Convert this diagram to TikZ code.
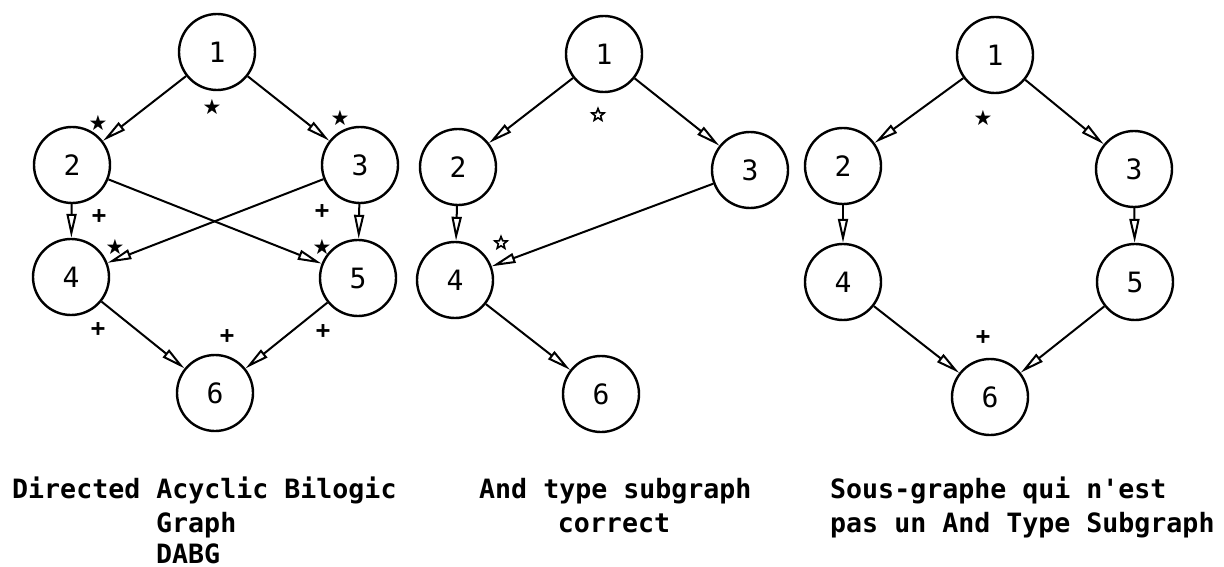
\documentclass[tikz,border=0pt]{standalone}
\usepackage{fontspec}
\setmonofont{DejaVu Sans Mono}
\newfontfamily\symf{DejaVu Sans}
\usetikzlibrary{arrows.meta,shapes.geometric}
\begin{document}
\begin{tikzpicture}[x=1pt,y=-1pt,
  vtx/.style={circle,draw,line width=2.4pt,minimum size=76pt,inner sep=0pt,
    font=\ttfamily\fontsize{28}{28}\selectfont},
  arr/.style={line width=2pt,-{Triangle[open,length=24pt,width=10pt,line width=2pt]}},
  starlbl/.style={font=\symf\fontsize{21}{21}\selectfont,inner sep=0pt},
  openstar/.style={star,star points=5,star point ratio=2.3,draw,line width=1.6pt,
    minimum size=13pt,inner sep=0pt},
  pluslbl/.style={font=\ttfamily\bfseries\fontsize{24}{24}\selectfont,inner sep=0pt},
  caplbl/.style={font=\ttfamily\bfseries\fontsize{26.6}{26.6}\selectfont,inner sep=0pt,anchor=base west}]
\useasboundingbox (0,0) rectangle (1224,567);
% Graph 1
\node[vtx] (a1) at (217,52) {1};
\node[vtx] (a2) at (72,165) {2};
\node[vtx] (a3) at (360,165) {3};
\node[vtx] (a4) at (71,277) {4};
\node[vtx] (a5) at (358,278) {5};
\node[vtx] (a6) at (215,393) {6};
\draw[arr] (a1) -- (a2);
\draw[arr] (a1) -- (a3);
\draw[arr] (a2) -- (a4);
\draw[arr] (a3) -- (a5);
\draw[arr] (a2) -- (a5);
\draw[arr] (a3) -- (a4);
\draw[arr] (a4) -- (a6);
\draw[arr] (a5) -- (a6);
\node[starlbl] (as1) at (98,123) {★};
\node[starlbl] (as2) at (212,107) {★};
\node[starlbl] (as3) at (340,118) {★};
\node[starlbl] (as4) at (115,247) {★};
\node[starlbl] (as5) at (322,247) {★};
\node[pluslbl] (ap1) at (99,217) {+};
\node[pluslbl] (ap2) at (322,212) {+};
\node[pluslbl] (ap3) at (98,330) {+};
\node[pluslbl] (ap4) at (227,337) {+};
\node[pluslbl] (ap5) at (323,332) {+};
% Graph 2
\node[vtx] (b1) at (604,54) {1};
\node[vtx] (b2) at (458,167) {2};
\node[vtx] (b3) at (750,170) {3};
\node[vtx] (b4) at (455,280) {4};
\node[vtx] (b6) at (601,394) {6};
\draw[arr] (b1) -- (b2);
\draw[arr] (b1) -- (b3);
\draw[arr] (b2) -- (b4);
\draw[arr] (b3) -- (b4);
\draw[arr] (b4) -- (b6);
\node[openstar] (bs1) at (598,115) {};
\node[openstar] (bs2) at (501,243) {};
% Graph 3
\node[vtx] (c1) at (995,55) {1};
\node[vtx] (c2) at (843,166) {2};
\node[vtx] (c3) at (1134,169) {3};
\node[vtx] (c4) at (843,282) {4};
\node[vtx] (c5) at (1135,282) {5};
\node[vtx] (c6) at (990,397) {6};
\draw[arr] (c1) -- (c2);
\draw[arr] (c1) -- (c3);
\draw[arr] (c2) -- (c4);
\draw[arr] (c3) -- (c5);
\draw[arr] (c4) -- (c6);
\draw[arr] (c5) -- (c6);
\node[starlbl] (cs1) at (983,118) {★};
\node[pluslbl] (cp1) at (983,338) {+};
% Captions
\node[caplbl] (t1a) at (12,498) {Directed Acyclic Bilogic};
\node[caplbl] (t1b) at (156,532) {Graph};
\node[caplbl] (t1c) at (156,563) {DABG};
\node[caplbl] (t2a) at (479,498) {And type subgraph};
\node[caplbl,anchor=base] (t2b) at (614,532) {correct};
\node[caplbl] (t3a) at (830,498) {Sous-graphe qui n'est};
\node[caplbl] (t3b) at (830,532) {pas un And Type Subgraph};
\end{tikzpicture}
\end{document}
